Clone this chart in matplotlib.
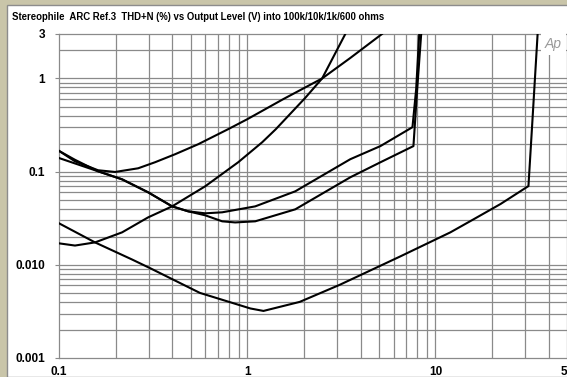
import matplotlib.pyplot as plt
from matplotlib.patches import Rectangle

# output level (V) and THD+N (%)
v_100k = [0.1, 0.1554, 0.2445, 0.305, 0.56, 1.04, 1.22, 1.9, 3.1, 6.5, 12.0, 15.9, 22.2, 31.2, 32.8, 34.9]
thd_100k = [0.0279, 0.0174, 0.0114, 0.0092, 0.0050, 0.0034, 0.0032, 0.0040, 0.0061, 0.0123, 0.0223,
            0.0307, 0.045, 0.070, 0.37, 3.0]

v_rise = [0.1, 0.1216, 0.1554, 0.2163, 0.2975, 0.399, 0.598, 0.896, 1.202, 1.42, 2.035, 2.5, 3.32]
thd_rise = [0.017, 0.0161, 0.0174, 0.0223, 0.0323, 0.0424, 0.0696, 0.1262, 0.207, 0.286, 0.62, 1.0, 3.0]

v_u = [0.1, 0.1216, 0.1612, 0.1986, 0.2632, 0.324, 0.414, 0.549, 0.792, 1.0, 1.554, 2.5, 3.53, 5.2]
thd_u = [0.167, 0.129, 0.1035, 0.0992, 0.1086, 0.1262, 0.1538, 0.1969, 0.2856, 0.365, 0.60, 1.0, 1.66, 3.0]

v_10k = [0.1, 0.1216, 0.1612, 0.2163, 0.2975, 0.399, 0.486, 0.598, 0.736, 1.103, 1.8, 3.53, 5.1, 7.55, 7.9, 8.2]
thd_10k = [0.167, 0.134, 0.1009, 0.0827, 0.060, 0.0424, 0.0375, 0.0357, 0.0366, 0.0424, 0.0615, 0.136,
           0.188, 0.30, 0.77, 3.0]

v_1k = [0.1, 0.1612, 0.2163, 0.2975, 0.399, 0.486, 0.598, 0.736, 0.863, 1.103, 1.8, 3.53, 5.1, 7.64, 8.0, 8.4]
thd_1k = [0.14, 0.1009, 0.0827, 0.060, 0.0424, 0.0375, 0.034, 0.0293, 0.0285, 0.0293, 0.0394, 0.087,
          0.126, 0.188, 0.77, 3.0]

x_ticks = [0.1, 1, 10, 50]
x_labels = ["0.1", "1", "10", "50"]
y_ticks = [0.001, 0.01, 0.1, 1, 3]
y_labels = ["0.001", "0.010", "0.1", "1", "3"]

fig = plt.figure(figsize=(5.67, 3.77), dpi=100)
fig.patch.set_facecolor("#c9c5a9")
fig.patches.append(Rectangle((7 / 567, 0), 1, 1 - 5 / 377, transform=fig.transFigure,
                             facecolor="white", edgecolor="#8c8c8c", lw=1.0, zorder=-5))

ax = fig.add_axes([59 / 567, 19 / 377, 508 / 567, 324 / 377])
ax.set_facecolor("none")
ax.set_xscale("log")
ax.set_yscale("log")
ax.set_xlim(0.1, 50)
ax.set_ylim(0.001, 3)

grid_kw = dict(color="#8a8a8a", lw=0.9)
for s in ax.spines.values():
    s.set_color("#8a8a8a")
    s.set_linewidth(0.9)

for v, t in [(v_100k, thd_100k), (v_rise, thd_rise), (v_u, thd_u), (v_10k, thd_10k), (v_1k, thd_1k)]:
    ax.plot(v, t, color="black", lw=1.5, solid_joinstyle="round", zorder=3)

ax.set_xticks(x_ticks)
ax.set_xticklabels(x_labels)
ax.set_xticks([], minor=True)
ax.set_yticks(y_ticks)
ax.set_yticklabels(y_labels)
ax.set_yticks([], minor=True)

# log grid: every 1..9 step in each decade
for d in [0.1, 1, 10]:
    for m in range(1, 10):
        if 0.1 < d * m < 50:
            ax.axvline(d * m, **grid_kw, zorder=1)
for d in [0.001, 0.01, 0.1, 1]:
    for m in range(1, 10):
        if 0.001 < d * m < 3:
            ax.axhline(d * m, **grid_kw, zorder=1)

ax.tick_params(axis="x", length=0, pad=6, labelsize=8.5)
ax.tick_params(axis="y", length=3, color="#8a8a8a", pad=7, labelsize=8.5)
for lab in ax.get_xticklabels() + ax.get_yticklabels():
    lab.set_fontweight("bold")
    lab.set_fontfamily("Liberation Sans")

ax.text(0.99, 0.99, "Ap", transform=ax.transAxes, ha="right", va="top",
        fontsize=10, style="italic", color="#9a9a9a", family="Liberation Sans",
        bbox=dict(facecolor="white", edgecolor="none", pad=3), zorder=5)

fig.text(12 / 567, 1 - 17 / 377, "Stereophile  ARC Ref.3  THD+N (%) vs Output Level (V) into 100k/10k/1k/600 ohms",
         fontsize=6.95, fontweight="bold", family="Liberation Sans", va="center", ha="left")

fig.savefig("out.png", dpi=100)
